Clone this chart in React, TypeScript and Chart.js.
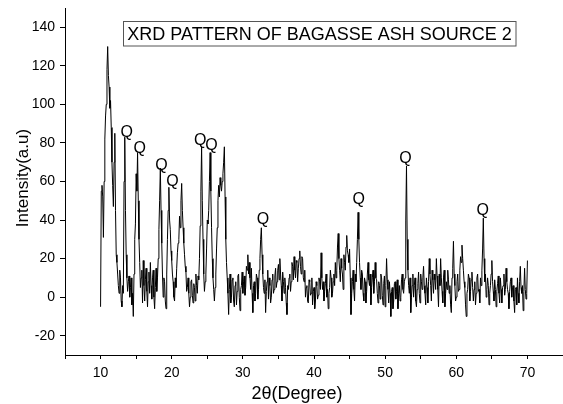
import React, { useEffect, useRef } from 'react';
import { Chart, registerables } from 'chart.js';

Chart.register(...registerables);

// Scan sampling (2θ start and step of the measured pattern)
const START_ANGLE = 10;
const STEP = 0.1;

// Intensity values, one per 0.1° from 10° to 70° (20 per row = 2°)
const INTENSITY = [
  -5, 55, 58, 52, 31, 60, 82, 94, 100, 118, 130, 115, 109, 98, 102, 88, 70, 58, 47, 70,
  85, 45, 22, 18, 12, 6, 2, 14, 10, -2, -5, 6, 2, 60, 83, 45, 22, 10, 3, 8,
  11, 0, 5, 10, -4, 2, -10, 12, 30, 38, 64, 55, 75, 50, 30, 18, 5, 10, 14, -3,
  19, 6, -2, 9, 15, 3, -5, 8, 13, 2, 18, 6, -1, 10, 14, 0, -6, 5, 15, 3,
  10, 20, 35, 50, 67, 45, 28, 12, 0, 10, 8, -2, -6, 12, 30, 45, 57, 40, 35, 24,
  19, 12, 8, 0, -2, 10, 5, 15, 23, 28, 30, 42, 36, 50, 59, 45, 36, 28, 22, 16,
  13, 3, 5, 10, 2, -5, 0, 8, 9, 1, -3, 7, 5, -2, 12, 6, 2, 11, 9, 20,
  37, 55, 78, 50, 30, 12, 3, 8, 12, 25, 40, 38, 45, 60, 75, 55, 36, 20, 10, 4,
  -2, 5, 12, 25, 36, 50, 58, 52, 62, 58, 55, 60, 64, 70, 78, 52, 30, 18, 10, 2,
  -9, 4, 12, -3, 0, 9, 10, -2, -5, 6, 8, -4, 3, 11, 12, 0, -7, 4, 6, 13,
  2, 8, 11, 1, 5, 16, 14, 22, 12, 18, 10, 4, 15, 2, -8, 6, 8, -2, 2, 12,
  10, -1, 4, 14, 20, 30, 36, 22, 12, 5, 2, 9, -8, 3, 8, 14, -1, 10, 6, -3,
  0, 9, 12, 2, 4, 11, 15, 5, 8, 14, 17, 9, 20, 12, 6, -2, 13, 8, 2, 10,
  5, -3, -9, 6, 4, 10, 12, 3, 8, 18, 16, 9, 21, 14, 10, 19, 18, 8, 15, 20,
  24, 16, 12, 21, 20, 10, 8, 14, 0, 5, 6, -2, -3, 9, 8, 1, 2, 10, -4, 3,
  5, -6, -2, 8, 6, -1, 1, 10, 8, 4, 23, 10, 4, 8, -2, 3, 7, 12, 0, 4,
  -6, 2, 5, 14, 10, 0, 2, 8, 12, 6, 18, 10, 14, 26, 33, 20, 14, 8, 20, 15,
  12, 4, 22, 18, 14, 26, 32, 24, 22, 18, 25, 10, -9, 2, 8, 14, 4, -2, 12, 8,
  18, 30, 44, 30, 18, 10, 4, 14, 12, 2, -2, 10, 8, -3, 3, 12, 18, 9, 6, 12,
  -4, 5, 10, 14, 2, 8, 18, 10, 9, 2, -3, 8, 6, -1, 12, 10, 1, -4, 7, 11,
  -5, 6, 20, 9, 4, -3, 8, 2, -10, 3, 5, -6, -2, 7, 8, -1, 3, 9, -6, 2,
  6, -2, 0, 9, 12, 4, 2, 8, 10, 40, 68, 30, 14, 6, 2, 10, -8, 0, 6, 12,
  0, 6, 10, -2, -5, 4, 7, 13, 2, -3, 12, 8, 4, 10, 16, 6, 2, -4, 10, 5,
  -3, 8, 20, 12, 6, -2, 14, 9, 2, 12, 9, 4, 20, 11, 4, -5, 12, 6, 20, 10,
  3, -3, 10, 14, -5, 2, 8, 4, 14, 9, 2, 6, -4, -8, 10, 15, 29, 12, 6, -2,
  0, 8, 12, 3, 4, 14, 21, 18, 27, 20, 14, 8, 5, -4, -10, 2, 4, 12, 10, -2,
  3, 9, 13, 5, -2, 4, 8, -4, 2, 10, 12, 3, 4, -3, 10, 6, 14, 25, 41, 20,
  8, 12, 0, 4, 10, 6, -4, 2, 6, 12, 19, 8, 3, -2, 9, 4, -5, 3, 7, 11,
  2, -3, 10, 4, -3, 5, 6, 12, 1, 4, 15, 8, 4, 2, -6, 3, 8, 10, 0, 5,
  6, -2, -8, 4, 5, -4, 10, 2, -3, 8, 16, 5, 2, 6, -7, 3, 15, 4, -1, 2,
  19,
];

// Quartz ("Q") peak labels
const Q_ANGLES = [13.66, 15.5, 18.57, 20.1, 24.0, 25.59, 32.82, 46.3, 52.87, 63.7];
const Q_HEIGHTS = [85.6, 77.1, 68.3, 59.8, 81.4, 78.4, 40.2, 50.5, 71.7, 45];
const Q_TEXT = 'Q';

// Axes
const X_MIN = 5;
const X_MAX = 75;
const Y_MIN = -30;
const Y_MAX = 150;
const X_TICKS = [5, 10, 15, 20, 25, 30, 35, 40, 45, 50, 55, 60, 65, 70, 75];
const X_LABELED = [10, 20, 30, 40, 50, 60, 70];
const Y_TICKS = [-20, 0, 20, 40, 60, 80, 100, 120, 140];

const TITLE = 'XRD PATTERN OF BAGASSE ASH SOURCE 2';
const X_TITLE = '2θ(Degree)';
const Y_TITLE = 'Intensity(a.u)';

const FONT = "'Liberation Sans', Arial, sans-serif";

const clearScalePadding = (scale: any) => {
  scale.paddingTop = 0;
  scale.paddingBottom = 0;
  scale.paddingLeft = 0;
  scale.paddingRight = 0;
};

const decorPlugin = {
  id: 'decor',
  afterDraw(chart: any) {
    const ctx = chart.ctx;
    const xs = chart.scales.x;
    const ys = chart.scales.y;
    ctx.save();

    // Q labels
    ctx.fillStyle = '#000';
    ctx.font = `16px ${FONT}`;
    ctx.textAlign = 'center';
    ctx.textBaseline = 'middle';
    Q_ANGLES.forEach((a, i) => {
      ctx.fillText(Q_TEXT, xs.getPixelForValue(a), ys.getPixelForValue(Q_HEIGHTS[i]));
    });

    // Title box
    ctx.fillStyle = '#fff';
    ctx.fillRect(123.5, 21.5, 392.5, 24.5);
    ctx.strokeStyle = '#555';
    ctx.lineWidth = 1;
    ctx.strokeRect(123.5, 21.5, 392.5, 24.5);
    ctx.fillStyle = '#000';
    ctx.font = `18px ${FONT}`;
    ctx.textAlign = 'center';
    ctx.textBaseline = 'alphabetic';
    ctx.fillText(TITLE, 319.5, 39.5);

    // Axis titles
    ctx.font = `18px ${FONT}`;
    ctx.fillText(X_TITLE, 297, 399);

    ctx.translate(23, 178);
    ctx.rotate(-Math.PI / 2);
    ctx.font = `17px ${FONT}`;
    ctx.textAlign = 'center';
    ctx.textBaseline = 'middle';
    ctx.fillText(Y_TITLE, 0, 0);
    ctx.restore();
  },
};

export default function App() {
  const canvasRef = useRef<HTMLCanvasElement | null>(null);

  useEffect(() => {
    const canvas = canvasRef.current;
    if (!canvas) return;
    const points = INTENSITY.map((v, i) => ({
      x: Math.round((START_ANGLE + i * STEP) * 10) / 10,
      y: v,
    }));

    const chart = new Chart(canvas, {
      type: 'line',
      data: {
        datasets: [
          {
            data: points,
            borderColor: '#000',
            borderWidth: 1,
            pointRadius: 0,
            tension: 0,
            fill: false,
          },
        ],
      },
      options: {
        animation: false,
        responsive: false,
        devicePixelRatio: 1,
        parsing: false,
        layout: { autoPadding: false, padding: { top: 8, right: 0, bottom: 0, left: 0 } },
        plugins: {
          legend: { display: false },
          tooltip: { enabled: false },
          title: { display: false },
        },
        scales: {
          x: {
            type: 'linear',
            min: X_MIN,
            max: X_MAX,
            afterBuildTicks: (scale: any) => {
              scale.ticks = X_TICKS.map((v) => ({ value: v }));
            },
            afterFit: (scale: any) => {
              scale.height = 49;
              clearScalePadding(scale);
            },
            ticks: {
              autoSkip: false,
              maxRotation: 0,
              padding: 6,
              color: '#000',
              font: { family: FONT, size: 14 },
              callback: (v: any) => (X_LABELED.includes(Number(v)) ? String(v) : ''),
            },
            grid: {
              display: true,
              drawOnChartArea: false,
              drawTicks: true,
              tickLength: 4,
              color: '#000',
            },
            border: { display: true, color: '#000', width: 1 },
            title: { display: false },
          },
          y: {
            type: 'linear',
            min: Y_MIN,
            max: Y_MAX,
            afterBuildTicks: (scale: any) => {
              scale.ticks = Y_TICKS.map((v) => ({ value: v }));
            },
            afterFit: (scale: any) => {
              scale.width = 65;
              clearScalePadding(scale);
            },
            ticks: {
              autoSkip: false,
              padding: 5,
              color: '#000',
              font: { family: FONT, size: 14 },
            },
            grid: {
              display: true,
              drawOnChartArea: false,
              drawTicks: true,
              tickLength: 5,
              color: '#000',
            },
            border: { display: true, color: '#000', width: 1 },
            title: { display: false },
          },
        },
      },
      plugins: [decorPlugin],
    });

    return () => chart.destroy();
  }, []);

  return (
    <div
      style={{
        position: 'fixed',
        left: 0,
        top: 0,
        width: 563,
        height: 404,
        background: '#fff',
      }}
    >
      <canvas ref={canvasRef} width={563} height={404} style={{ width: 563, height: 404 }} />
    </div>
  );
}
